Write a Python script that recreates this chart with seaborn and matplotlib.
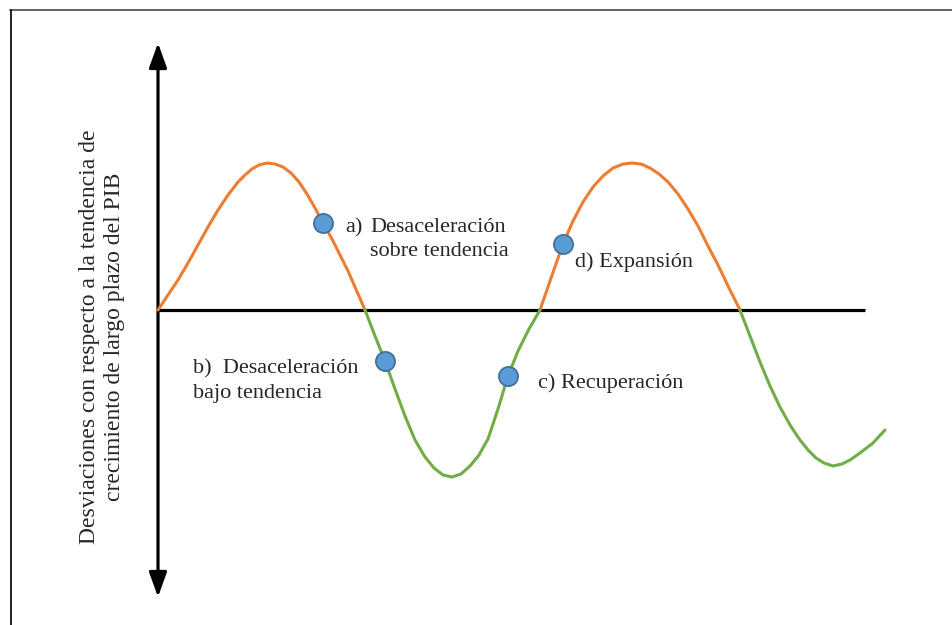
import numpy as np
import pandas as pd
import matplotlib.pyplot as plt
import seaborn as sns
from matplotlib.lines import Line2D

# curve, one list per half-cycle (x = time, y = deviation from trend)
t_tramo1 = [0, 10, 20, 30, 40, 50, 60, 70, 80, 87, 94, 101, 109, 117, 125, 133, 141,
            149, 157, 165, 174, 182, 190, 197, 207]
y_tramo1 = [0, 15, 30, 47, 65, 83, 100, 115, 128, 135, 141, 145, 147, 146, 143, 137, 128,
            116, 102, 87, 71, 55, 39, 23, 0]
t_tramo2 = [207, 217, 227, 237, 247, 257, 267, 276, 285, 294, 303, 312, 321, 330, 340,
            350, 360, 371, 382]
y_tramo2 = [0, -26, -51, -79, -106, -130, -147, -158, -165, -167, -164, -156, -145, -129,
            -99, -66, -41, -19, 0]
t_tramo3 = [382, 392, 405, 415, 425, 435, 445, 455, 465, 474, 483, 492, 501, 510, 520,
            530, 540, 550, 560, 571, 582]
y_tramo3 = [0, 29, 66, 89, 108, 123, 134, 142, 146, 147, 146, 142, 136, 128, 116,
            101, 84, 64, 45, 22, 0]
t_tramo4 = [582, 592, 602, 612, 622, 632, 642, 650, 658, 666, 675, 684, 692, 702, 715, 727]
y_tramo4 = [0, -26, -52, -76, -97, -115, -130, -140, -148, -153, -156, -154, -150, -143,
            -133, -120]

# phase points a, b, c, d
t_puntos = [165, 227, 350, 405]
y_puntos = [87, -51, -66, 66]

etiqueta_y1 = "Desviaciones con respecto a la tendencia de"
etiqueta_y2 = "crecimiento de largo plazo del PIB"

naranja = "#ED7D31"
verde = "#70AD47"
azul = "#5B9BD5"

tramos = [(t_tramo1, y_tramo1, "sobre"), (t_tramo2, y_tramo2, "bajo"),
          (t_tramo3, y_tramo3, "sobre"), (t_tramo4, y_tramo4, "bajo")]
filas = []
for i, (ts, ys, fase) in enumerate(tramos):
    for t, y in zip(ts, ys):
        filas.append({"t": t, "dev": y, "tramo": i, "fase": fase})
df = pd.DataFrame(filas)

sns.set_style("white")
plt.rcParams['font.family'] = ['Liberation Serif', 'DejaVu Serif']

fig = plt.figure(figsize=(9.52, 6.25), dpi=100)
ax = fig.add_axes([0, 0, 1, 1])
ax.set_xlim(-158, 952 - 158)
ax.set_ylim(310 - 625, 310)
ax.axis('off')

# axes of the diagram
ax.hlines(0, 0, 707, color="black", lw=2.3, zorder=2)
ax.annotate("", xy=(0, 267), xytext=(0, -287),
            arrowprops=dict(arrowstyle="<|-|>,head_length=0.75,head_width=0.27",
                            color="black", lw=2.3, shrinkA=0, shrinkB=0,
                            mutation_scale=20), zorder=2)

sns.lineplot(data=df, x="t", y="dev", hue="fase", units="tramo", estimator=None,
             sort=False, palette={"sobre": naranja, "bajo": verde}, lw=2.2,
             legend=False, ax=ax, zorder=3)
sns.scatterplot(x=t_puntos, y=y_puntos, s=190, color=azul, edgecolor="#41719C",
                linewidth=1.3, ax=ax, zorder=4)

fs = 16
ax.text(187, 78, "a)", fontsize=fs, va="baseline")
ax.text(212, 78, "Desaceleración", fontsize=fs, va="baseline")
ax.text(212, 54, "sobre tendencia", fontsize=fs, va="baseline")
ax.text(35, -63, "b)  Desaceleración", fontsize=fs, va="baseline")
ax.text(35, -88, "bajo tendencia", fontsize=fs, va="baseline")
ax.text(380, -78, "c) Recuperación", fontsize=fs, va="baseline")
ax.text(417, 43, "d) Expansión", fontsize=fs, va="baseline")
ax.text(-68, -27, etiqueta_y1, fontsize=17, rotation=90, ha="center", va="center")
ax.text(-43, -27, etiqueta_y2, fontsize=17, rotation=90, ha="center", va="center")

# frame lines at top and left
fig.add_artist(Line2D([10 / 952, 1], [1 - 10 / 625] * 2, transform=fig.transFigure,
                      color="#555555", lw=1.3))
fig.add_artist(Line2D([10.5 / 952] * 2, [0, 1 - 10 / 625], transform=fig.transFigure,
                      color="#111111", lw=1.3))

fig.savefig("out.png", dpi=100)
